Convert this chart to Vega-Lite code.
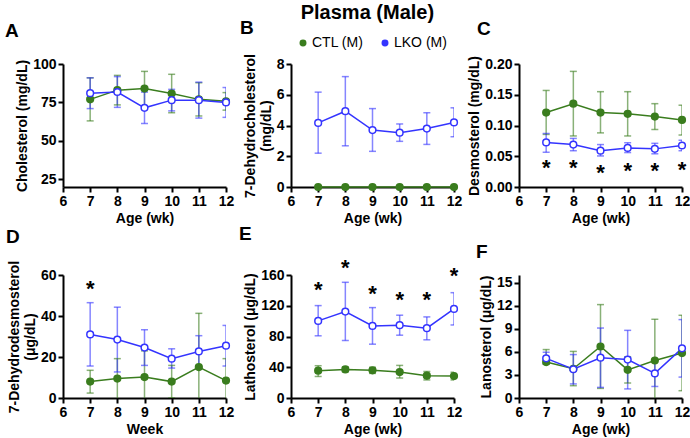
{
"$schema":"https://vega.github.io/schema/vega-lite/v6.json",
"padding":{"left":5,"right":5,"top":2,"bottom":2},
"datasets":{
"d":[
{"p":"A","w":7,"g":"CTL (M)","m":77,"lo":63,"hi":91},
{"p":"A","w":8,"g":"CTL (M)","m":83,"lo":73.4,"hi":92.6},
{"p":"A","w":9,"g":"CTL (M)","m":84,"lo":72.8,"hi":95.2},
{"p":"A","w":10,"g":"CTL (M)","m":80.8,"lo":68.3,"hi":93.3},
{"p":"A","w":11,"g":"CTL (M)","m":77,"lo":66.2,"hi":87.8},
{"p":"A","w":12,"g":"CTL (M)","m":75.7,"lo":70,"hi":81.4},
{"p":"A","w":7,"g":"LKO (M)","m":81,"lo":71,"hi":91},
{"p":"A","w":8,"g":"LKO (M)","m":81.8,"lo":71.8,"hi":91.8},
{"p":"A","w":9,"g":"LKO (M)","m":71.5,"lo":61.3,"hi":81.7},
{"p":"A","w":10,"g":"LKO (M)","m":76.5,"lo":69.5,"hi":83.5},
{"p":"A","w":11,"g":"LKO (M)","m":76.5,"lo":64.8,"hi":88.2},
{"p":"A","w":12,"g":"LKO (M)","m":75,"lo":65.3,"hi":84.7},
{"p":"B","w":7,"g":"CTL (M)","m":0,"lo":null,"hi":null},
{"p":"B","w":8,"g":"CTL (M)","m":0,"lo":null,"hi":null},
{"p":"B","w":9,"g":"CTL (M)","m":0,"lo":null,"hi":null},
{"p":"B","w":10,"g":"CTL (M)","m":0,"lo":null,"hi":null},
{"p":"B","w":11,"g":"CTL (M)","m":0,"lo":null,"hi":null},
{"p":"B","w":12,"g":"CTL (M)","m":0,"lo":null,"hi":null},
{"p":"B","w":7,"g":"LKO (M)","m":4.17,"lo":2.2,"hi":6.17},
{"p":"B","w":8,"g":"LKO (M)","m":4.93,"lo":2.68,"hi":7.18},
{"p":"B","w":9,"g":"LKO (M)","m":3.7,"lo":2.32,"hi":5.1},
{"p":"B","w":10,"g":"LKO (M)","m":3.53,"lo":2.97,"hi":4.1},
{"p":"B","w":11,"g":"LKO (M)","m":3.8,"lo":2.77,"hi":4.83},
{"p":"B","w":12,"g":"LKO (M)","m":4.2,"lo":3.27,"hi":5.15},
{"p":"C","w":7,"g":"CTL (M)","m":0.121,"lo":0.0855,"hi":0.157},
{"p":"C","w":8,"g":"CTL (M)","m":0.1355,"lo":0.083,"hi":0.188},
{"p":"C","w":9,"g":"CTL (M)","m":0.121,"lo":0.088,"hi":0.155},
{"p":"C","w":10,"g":"CTL (M)","m":0.119,"lo":0.083,"hi":0.155},
{"p":"C","w":11,"g":"CTL (M)","m":0.1145,"lo":0.0935,"hi":0.1355},
{"p":"C","w":12,"g":"CTL (M)","m":0.109,"lo":0.0845,"hi":0.133},
{"p":"C","w":7,"g":"LKO (M)","m":0.0725,"lo":0.0565,"hi":0.087},
{"p":"C","w":8,"g":"LKO (M)","m":0.069,"lo":0.059,"hi":0.079},
{"p":"C","w":9,"g":"LKO (M)","m":0.059,"lo":0.0505,"hi":0.069},
{"p":"C","w":10,"g":"LKO (M)","m":0.0635,"lo":0.056,"hi":0.072},
{"p":"C","w":11,"g":"LKO (M)","m":0.062,"lo":0.054,"hi":0.071},
{"p":"C","w":12,"g":"LKO (M)","m":0.0675,"lo":0.059,"hi":0.076},
{"p":"D","w":7,"g":"CTL (M)","m":8,"lo":2.4,"hi":13.5},
{"p":"D","w":8,"g":"CTL (M)","m":9.5,"lo":-0.5,"hi":19.2},
{"p":"D","w":9,"g":"CTL (M)","m":10.2,"lo":-3,"hi":23},
{"p":"D","w":10,"g":"CTL (M)","m":8,"lo":0,"hi":15.9},
{"p":"D","w":11,"g":"CTL (M)","m":15.1,"lo":-11,"hi":41.3},
{"p":"D","w":12,"g":"CTL (M)","m":8.5,"lo":-2.2,"hi":19.2},
{"p":"D","w":7,"g":"LKO (M)","m":31,"lo":15.6,"hi":46.5},
{"p":"D","w":8,"g":"LKO (M)","m":28.5,"lo":12.7,"hi":44.3},
{"p":"D","w":9,"g":"LKO (M)","m":24.6,"lo":15.9,"hi":33.3},
{"p":"D","w":10,"g":"LKO (M)","m":19.2,"lo":14.6,"hi":24},
{"p":"D","w":11,"g":"LKO (M)","m":22.7,"lo":15,"hi":30.4},
{"p":"D","w":12,"g":"LKO (M)","m":25.5,"lo":15.6,"hi":35.4},
{"p":"E","w":7,"g":"CTL (M)","m":35.5,"lo":28,"hi":42},
{"p":"E","w":8,"g":"CTL (M)","m":37.2,"lo":34,"hi":40.4},
{"p":"E","w":9,"g":"CTL (M)","m":36,"lo":32,"hi":40},
{"p":"E","w":10,"g":"CTL (M)","m":33.7,"lo":26,"hi":42.4},
{"p":"E","w":11,"g":"CTL (M)","m":29,"lo":23.5,"hi":34.5},
{"p":"E","w":12,"g":"CTL (M)","m":28.5,"lo":23.5,"hi":33.5},
{"p":"E","w":7,"g":"LKO (M)","m":100.3,"lo":80.9,"hi":120.2},
{"p":"E","w":8,"g":"LKO (M)","m":112.4,"lo":74.8,"hi":150.5},
{"p":"E","w":9,"g":"LKO (M)","m":93.8,"lo":70,"hi":117.6},
{"p":"E","w":10,"g":"LKO (M)","m":94.7,"lo":81.7,"hi":107.7},
{"p":"E","w":11,"g":"LKO (M)","m":90.8,"lo":75.7,"hi":105.5},
{"p":"E","w":12,"g":"LKO (M)","m":115.9,"lo":95,"hi":137},
{"p":"F","w":7,"g":"CTL (M)","m":4.67,"lo":4.4,"hi":6.3},
{"p":"F","w":8,"g":"CTL (M)","m":3.8,"lo":1.6,"hi":6.06},
{"p":"F","w":9,"g":"CTL (M)","m":6.7,"lo":1.25,"hi":12.15},
{"p":"F","w":10,"g":"CTL (M)","m":3.66,"lo":1.95,"hi":5.37},
{"p":"F","w":11,"g":"CTL (M)","m":4.88,"lo":-0.5,"hi":10.24},
{"p":"F","w":12,"g":"CTL (M)","m":5.85,"lo":0.95,"hi":10.76},
{"p":"F","w":7,"g":"LKO (M)","m":5.16,"lo":4.43,"hi":5.95},
{"p":"F","w":8,"g":"LKO (M)","m":3.74,"lo":1.83,"hi":5.65},
{"p":"F","w":9,"g":"LKO (M)","m":5.24,"lo":1.38,"hi":9.1},
{"p":"F","w":10,"g":"LKO (M)","m":5.0,"lo":1.18,"hi":8.8},
{"p":"F","w":11,"g":"LKO (M)","m":3.2,"lo":1.5,"hi":4.9},
{"p":"F","w":12,"g":"LKO (M)","m":6.46,"lo":2.72,"hi":10.2}
],
"s":[
{"p":"C","w":7,"y":0.0403},{"p":"C","w":8,"y":0.0403},{"p":"C","w":9,"y":0.032},{"p":"C","w":10,"y":0.035},{"p":"C","w":11,"y":0.035},{"p":"C","w":12,"y":0.038},
{"p":"D","w":7,"y":56},
{"p":"E","w":7,"y":148.8},{"p":"E","w":8,"y":176.8},{"p":"E","w":9,"y":143.2},{"p":"E","w":10,"y":135},{"p":"E","w":11,"y":135},{"p":"E","w":12,"y":166.8}
]
},
"title":{"text":"Plasma (Male)","fontSize":20,"fontWeight":"bold","font":"Liberation Sans","anchor":"middle","offset":-4,"dx":20,"color":"black"},
"columns":3,
"spacing":{"row":88,"column":65},
"bounds":"flush",
"concat":[
{"width":163,"height":123,
 "title":{"text":"A","anchor":"start","frame":"group","dx":-58,"offset":16,"fontSize":19,"fontWeight":"bold","color":"black"},
 "encoding":{"x":{"field":"w","type":"quantitative","scale":{"domain":[6,12]},"axis":{"values":[6,7,8,9,10,11,12],"title":"Age (wk)"}}},
 "layer":[
  {"data":{"name":"d"},"transform":[{"filter":"datum.p==='A' && datum.lo!=null"}],"mark":{"type":"rule","strokeWidth":1.5,"opacity":0.6,"clip":true},
   "encoding":{"y":{"field":"lo","type":"quantitative","scale":{"domain":[25,100]},"axis":{"values":[25,50,75,100],"title":"Cholesterol (mg/dL)"}},"y2":{"field":"hi"},"color":{"field":"g","type":"nominal","scale":{"domain":["CTL (M)","LKO (M)"],"range":["#3A7D1E","#3434FF"]}}}},
  {"data":{"name":"d"},"transform":[{"filter":"datum.p==='A' && datum.lo!=null"}],"mark":{"type":"tick","orient":"horizontal","size":7,"thickness":1.5,"opacity":0.6,"clip":true},
   "encoding":{"y":{"field":"lo","type":"quantitative","axis":{"values":[25,50,75,100],"title":"Cholesterol (mg/dL)"}},"color":{"field":"g","type":"nominal"}}},
  {"data":{"name":"d"},"transform":[{"filter":"datum.p==='A' && datum.lo!=null"}],"mark":{"type":"tick","orient":"horizontal","size":7,"thickness":1.5,"opacity":0.6,"clip":true},
   "encoding":{"y":{"field":"hi","type":"quantitative","axis":{"values":[25,50,75,100],"title":"Cholesterol (mg/dL)"}},"color":{"field":"g","type":"nominal"}}},
  {"data":{"name":"d"},"transform":[{"filter":"datum.p==='A'"}],"mark":{"type":"line","strokeWidth":1.5},
   "encoding":{"y":{"field":"m","type":"quantitative","axis":{"values":[25,50,75,100],"title":"Cholesterol (mg/dL)"}},"color":{"field":"g","type":"nominal"}}},
  {"data":{"name":"d"},"transform":[{"filter":"datum.p==='A'"}],"mark":{"type":"point","filled":false,"size":45,"strokeWidth":1.5,"opacity":1},
   "encoding":{"y":{"field":"m","type":"quantitative","axis":{"values":[25,50,75,100],"title":"Cholesterol (mg/dL)"}},
    "color":{"field":"g","type":"nominal","legend":{"title":null,"orient":"none","legendX":233,"legendY":-28,"direction":"horizontal"}},
    "fill":{"field":"g","type":"nominal","scale":{"domain":["CTL (M)","LKO (M)"],"range":["#3A7D1E","#FFFFFF"]},"legend":{"title":null,"orient":"none","legendX":233,"legendY":-28,"direction":"horizontal"}}}}
 ]},
{"width":163,"height":123,
 "title":{"text":"B","anchor":"start","frame":"group","dx":-51,"offset":16,"fontSize":19,"fontWeight":"bold","color":"black"},
 "encoding":{"x":{"field":"w","type":"quantitative","scale":{"domain":[6,12]},"axis":{"values":[6,7,8,9,10,11,12],"title":"Age (wk)"}}},
 "layer":[
  {"data":{"name":"d"},"transform":[{"filter":"datum.p==='B' && datum.lo!=null"}],"mark":{"type":"rule","strokeWidth":1.5,"opacity":0.6,"clip":true},
   "encoding":{"y":{"field":"lo","type":"quantitative","scale":{"domain":[0,8]},"axis":{"values":[0,2,4,6,8],"title":["7-Dehydrocholesterol","(mg/dL)"]}},"y2":{"field":"hi"},"color":{"field":"g","type":"nominal"}}},
  {"data":{"name":"d"},"transform":[{"filter":"datum.p==='B' && datum.lo!=null"}],"mark":{"type":"tick","orient":"horizontal","size":7,"thickness":1.5,"opacity":0.6,"clip":true},
   "encoding":{"y":{"field":"lo","type":"quantitative","axis":{"values":[0,2,4,6,8],"title":["7-Dehydrocholesterol","(mg/dL)"]}},"color":{"field":"g","type":"nominal"}}},
  {"data":{"name":"d"},"transform":[{"filter":"datum.p==='B' && datum.lo!=null"}],"mark":{"type":"tick","orient":"horizontal","size":7,"thickness":1.5,"opacity":0.6,"clip":true},
   "encoding":{"y":{"field":"hi","type":"quantitative","axis":{"values":[0,2,4,6,8],"title":["7-Dehydrocholesterol","(mg/dL)"]}},"color":{"field":"g","type":"nominal"}}},
  {"data":{"name":"d"},"transform":[{"filter":"datum.p==='B'"}],"mark":{"type":"line","strokeWidth":1.5},
   "encoding":{"y":{"field":"m","type":"quantitative","axis":{"values":[0,2,4,6,8],"title":["7-Dehydrocholesterol","(mg/dL)"]}},"color":{"field":"g","type":"nominal"}}},
  {"data":{"name":"d"},"transform":[{"filter":"datum.p==='B'"}],"mark":{"type":"point","filled":false,"size":45,"strokeWidth":1.5,"opacity":1},
   "encoding":{"y":{"field":"m","type":"quantitative","axis":{"values":[0,2,4,6,8],"title":["7-Dehydrocholesterol","(mg/dL)"]}},"color":{"field":"g","type":"nominal"},"fill":{"field":"g","type":"nominal"}}}
 ]},
{"width":163,"height":123,
 "title":{"text":"C","anchor":"start","frame":"group","dx":-42,"offset":16,"fontSize":19,"fontWeight":"bold","color":"black"},
 "encoding":{"x":{"field":"w","type":"quantitative","scale":{"domain":[6,12]},"axis":{"values":[6,7,8,9,10,11,12],"title":"Age (wk)"}}},
 "layer":[
  {"data":{"name":"d"},"transform":[{"filter":"datum.p==='C' && datum.lo!=null"}],"mark":{"type":"rule","strokeWidth":1.5,"opacity":0.6,"clip":true},
   "encoding":{"y":{"field":"lo","type":"quantitative","scale":{"domain":[0,0.2]},"axis":{"values":[0,0.05,0.1,0.15,0.2],"format":".2f","title":"Desmosterol (mg/dL)"}},"y2":{"field":"hi"},"color":{"field":"g","type":"nominal"}}},
  {"data":{"name":"d"},"transform":[{"filter":"datum.p==='C' && datum.lo!=null"}],"mark":{"type":"tick","orient":"horizontal","size":7,"thickness":1.5,"opacity":0.6,"clip":true},
   "encoding":{"y":{"field":"lo","type":"quantitative","axis":{"values":[0,0.05,0.1,0.15,0.2],"format":".2f","title":"Desmosterol (mg/dL)"}},"color":{"field":"g","type":"nominal"}}},
  {"data":{"name":"d"},"transform":[{"filter":"datum.p==='C' && datum.lo!=null"}],"mark":{"type":"tick","orient":"horizontal","size":7,"thickness":1.5,"opacity":0.6,"clip":true},
   "encoding":{"y":{"field":"hi","type":"quantitative","axis":{"values":[0,0.05,0.1,0.15,0.2],"format":".2f","title":"Desmosterol (mg/dL)"}},"color":{"field":"g","type":"nominal"}}},
  {"data":{"name":"d"},"transform":[{"filter":"datum.p==='C'"}],"mark":{"type":"line","strokeWidth":1.5},
   "encoding":{"y":{"field":"m","type":"quantitative","axis":{"values":[0,0.05,0.1,0.15,0.2],"format":".2f","title":"Desmosterol (mg/dL)"}},"color":{"field":"g","type":"nominal"}}},
  {"data":{"name":"d"},"transform":[{"filter":"datum.p==='C'"}],"mark":{"type":"point","filled":false,"size":45,"strokeWidth":1.5,"opacity":1},
   "encoding":{"y":{"field":"m","type":"quantitative","axis":{"values":[0,0.05,0.1,0.15,0.2],"format":".2f","title":"Desmosterol (mg/dL)"}},"color":{"field":"g","type":"nominal"},"fill":{"field":"g","type":"nominal"}}},
  {"data":{"name":"s"},"transform":[{"filter":"datum.p==='C'"}],"mark":{"type":"text","text":"*","fontSize":22,"fontWeight":"bold","color":"black","baseline":"middle","dy":6},
   "encoding":{"y":{"field":"y","type":"quantitative","axis":{"values":[0,0.05,0.1,0.15,0.2],"format":".2f","title":"Desmosterol (mg/dL)"}}}}
 ]},
{"width":163,"height":123,
 "title":{"text":"D","anchor":"start","frame":"group","dx":-57,"offset":13,"fontSize":19,"fontWeight":"bold","color":"black"},
 "encoding":{"x":{"field":"w","type":"quantitative","scale":{"domain":[6,12]},"axis":{"values":[6,7,8,9,10,11,12],"title":"Week"}}},
 "layer":[
  {"data":{"name":"d"},"transform":[{"filter":"datum.p==='D' && datum.lo!=null"}],"mark":{"type":"rule","strokeWidth":1.5,"opacity":0.6,"clip":true},
   "encoding":{"y":{"field":"lo","type":"quantitative","scale":{"domain":[0,60]},"axis":{"values":[0,20,40,60],"title":["7-Dehydrodesmosterol","(μg/dL)"]}},"y2":{"field":"hi"},"color":{"field":"g","type":"nominal"}}},
  {"data":{"name":"d"},"transform":[{"filter":"datum.p==='D' && datum.lo!=null"}],"mark":{"type":"tick","orient":"horizontal","size":7,"thickness":1.5,"opacity":0.6,"clip":true},
   "encoding":{"y":{"field":"lo","type":"quantitative","axis":{"values":[0,20,40,60],"title":["7-Dehydrodesmosterol","(μg/dL)"]}},"color":{"field":"g","type":"nominal"}}},
  {"data":{"name":"d"},"transform":[{"filter":"datum.p==='D' && datum.lo!=null"}],"mark":{"type":"tick","orient":"horizontal","size":7,"thickness":1.5,"opacity":0.6,"clip":true},
   "encoding":{"y":{"field":"hi","type":"quantitative","axis":{"values":[0,20,40,60],"title":["7-Dehydrodesmosterol","(μg/dL)"]}},"color":{"field":"g","type":"nominal"}}},
  {"data":{"name":"d"},"transform":[{"filter":"datum.p==='D'"}],"mark":{"type":"line","strokeWidth":1.5},
   "encoding":{"y":{"field":"m","type":"quantitative","axis":{"values":[0,20,40,60],"title":["7-Dehydrodesmosterol","(μg/dL)"]}},"color":{"field":"g","type":"nominal"}}},
  {"data":{"name":"d"},"transform":[{"filter":"datum.p==='D'"}],"mark":{"type":"point","filled":false,"size":45,"strokeWidth":1.5,"opacity":1},
   "encoding":{"y":{"field":"m","type":"quantitative","axis":{"values":[0,20,40,60],"title":["7-Dehydrodesmosterol","(μg/dL)"]}},"color":{"field":"g","type":"nominal"},"fill":{"field":"g","type":"nominal"}}},
  {"data":{"name":"s"},"transform":[{"filter":"datum.p==='D'"}],"mark":{"type":"text","text":"*","fontSize":22,"fontWeight":"bold","color":"black","baseline":"middle","dy":6},
   "encoding":{"y":{"field":"y","type":"quantitative","axis":{"values":[0,20,40,60],"title":["7-Dehydrodesmosterol","(μg/dL)"]}}}}
 ]},
{"width":163,"height":123,
 "title":{"text":"E","anchor":"start","frame":"group","dx":-52,"offset":13,"fontSize":19,"fontWeight":"bold","color":"black"},
 "encoding":{"x":{"field":"w","type":"quantitative","scale":{"domain":[6,12]},"axis":{"values":[6,7,8,9,10,11,12],"title":"Age (wk)"}}},
 "layer":[
  {"data":{"name":"d"},"transform":[{"filter":"datum.p==='E' && datum.lo!=null"}],"mark":{"type":"rule","strokeWidth":1.5,"opacity":0.6,"clip":true},
   "encoding":{"y":{"field":"lo","type":"quantitative","scale":{"domain":[0,160]},"axis":{"values":[0,40,80,120,160],"title":"Lathosterol (μg/dL)"}},"y2":{"field":"hi"},"color":{"field":"g","type":"nominal"}}},
  {"data":{"name":"d"},"transform":[{"filter":"datum.p==='E' && datum.lo!=null"}],"mark":{"type":"tick","orient":"horizontal","size":7,"thickness":1.5,"opacity":0.6,"clip":true},
   "encoding":{"y":{"field":"lo","type":"quantitative","axis":{"values":[0,40,80,120,160],"title":"Lathosterol (μg/dL)"}},"color":{"field":"g","type":"nominal"}}},
  {"data":{"name":"d"},"transform":[{"filter":"datum.p==='E' && datum.lo!=null"}],"mark":{"type":"tick","orient":"horizontal","size":7,"thickness":1.5,"opacity":0.6,"clip":true},
   "encoding":{"y":{"field":"hi","type":"quantitative","axis":{"values":[0,40,80,120,160],"title":"Lathosterol (μg/dL)"}},"color":{"field":"g","type":"nominal"}}},
  {"data":{"name":"d"},"transform":[{"filter":"datum.p==='E'"}],"mark":{"type":"line","strokeWidth":1.5},
   "encoding":{"y":{"field":"m","type":"quantitative","axis":{"values":[0,40,80,120,160],"title":"Lathosterol (μg/dL)"}},"color":{"field":"g","type":"nominal"}}},
  {"data":{"name":"d"},"transform":[{"filter":"datum.p==='E'"}],"mark":{"type":"point","filled":false,"size":45,"strokeWidth":1.5,"opacity":1},
   "encoding":{"y":{"field":"m","type":"quantitative","axis":{"values":[0,40,80,120,160],"title":"Lathosterol (μg/dL)"}},"color":{"field":"g","type":"nominal"},"fill":{"field":"g","type":"nominal"}}},
  {"data":{"name":"s"},"transform":[{"filter":"datum.p==='E'"}],"mark":{"type":"text","text":"*","fontSize":22,"fontWeight":"bold","color":"black","baseline":"middle","dy":6},
   "encoding":{"y":{"field":"y","type":"quantitative","axis":{"values":[0,40,80,120,160],"title":"Lathosterol (μg/dL)"}}}}
 ]},
{"width":163,"height":123,
 "title":{"text":"F","anchor":"start","frame":"group","dx":-43,"offset":13,"fontSize":19,"fontWeight":"bold","color":"black"},
 "encoding":{"x":{"field":"w","type":"quantitative","scale":{"domain":[6,12]},"axis":{"values":[6,7,8,9,10,11,12],"title":"Age (wk)"}}},
 "layer":[
  {"data":{"name":"d"},"transform":[{"filter":"datum.p==='F' && datum.lo!=null"}],"mark":{"type":"rule","strokeWidth":1.5,"opacity":0.6,"clip":true},
   "encoding":{"y":{"field":"lo","type":"quantitative","scale":{"domain":[0,15]},"axis":{"values":[0,3,6,9,12,15],"title":"Lanosterol (μg/dL)"}},"y2":{"field":"hi"},"color":{"field":"g","type":"nominal"}}},
  {"data":{"name":"d"},"transform":[{"filter":"datum.p==='F' && datum.lo!=null"}],"mark":{"type":"tick","orient":"horizontal","size":7,"thickness":1.5,"opacity":0.6,"clip":true},
   "encoding":{"y":{"field":"lo","type":"quantitative","axis":{"values":[0,3,6,9,12,15],"title":"Lanosterol (μg/dL)"}},"color":{"field":"g","type":"nominal"}}},
  {"data":{"name":"d"},"transform":[{"filter":"datum.p==='F' && datum.lo!=null"}],"mark":{"type":"tick","orient":"horizontal","size":7,"thickness":1.5,"opacity":0.6,"clip":true},
   "encoding":{"y":{"field":"hi","type":"quantitative","axis":{"values":[0,3,6,9,12,15],"title":"Lanosterol (μg/dL)"}},"color":{"field":"g","type":"nominal"}}},
  {"data":{"name":"d"},"transform":[{"filter":"datum.p==='F'"}],"mark":{"type":"line","strokeWidth":1.5},
   "encoding":{"y":{"field":"m","type":"quantitative","axis":{"values":[0,3,6,9,12,15],"title":"Lanosterol (μg/dL)"}},"color":{"field":"g","type":"nominal"}}},
  {"data":{"name":"d"},"transform":[{"filter":"datum.p==='F'"}],"mark":{"type":"point","filled":false,"size":45,"strokeWidth":1.5,"opacity":1},
   "encoding":{"y":{"field":"m","type":"quantitative","axis":{"values":[0,3,6,9,12,15],"title":"Lanosterol (μg/dL)"}},"color":{"field":"g","type":"nominal"},"fill":{"field":"g","type":"nominal"}}}
 ]}
],
"config":{
 "font":"Liberation Sans",
 "view":{"stroke":null},
 "legend":{"symbolType":"circle","symbolSize":30,"symbolStrokeWidth":1.5,"symbolOpacity":1,"labelFontSize":14,"labelFont":"Liberation Sans","labelColor":"black","columnPadding":14,"labelOffset":2},
 "axis":{"grid":false,"domainColor":"black","domainWidth":2,"tickColor":"black","tickWidth":2,"tickSize":5,"labelFont":"Liberation Sans","labelFontWeight":"bold","labelFontSize":14,"labelColor":"black","labelPadding":2,"titleFont":"Liberation Sans","titleFontWeight":"bold","titleFontSize":14,"titleColor":"black","titlePadding":3,"labelFlush":false,"labelOverlap":false},
 "axisY":{"titlePadding":3}
}
}
